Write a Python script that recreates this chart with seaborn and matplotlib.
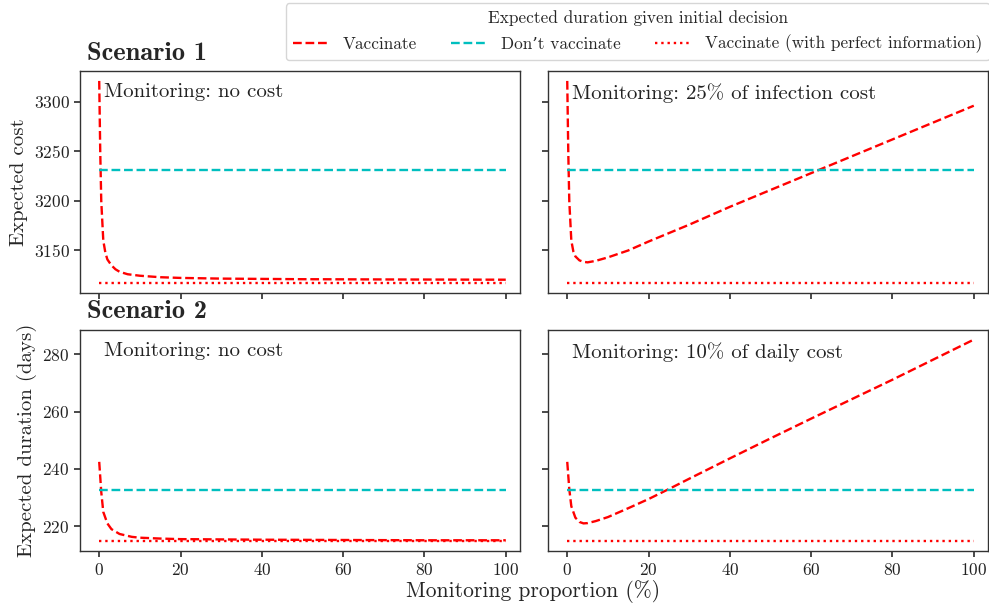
import matplotlib
matplotlib.use("Agg")
import matplotlib.pyplot as plt
import seaborn as sns

# Monitoring proportion (%) at which each curve was read
prop_s1_free = [0, 0.25, 0.5, 1, 1.5, 2, 3, 4, 5, 7, 10, 15, 20, 30, 50, 75, 100]
vacc_s1_free = [3321, 3250, 3200, 3160, 3148, 3141, 3135, 3131, 3128.5, 3126, 3124.5,
                3123, 3122.3, 3121.6, 3121, 3120.7, 3120.5]

prop_s1_cost = [0, 0.25, 0.5, 1, 1.5, 2, 3, 4, 5, 7, 10, 15, 20, 30, 40, 50, 60, 70, 80, 90, 100]
vacc_s1_cost = [3321, 3250, 3200, 3160, 3149, 3144, 3140, 3138.5, 3138, 3139.5, 3143,
                3150, 3159, 3176, 3194, 3211, 3228, 3245, 3262, 3279, 3296]

prop_s2_free = [0, 0.5, 1, 2, 3, 5, 8, 10, 15, 20, 40, 60, 80, 100]
vacc_s2_free = [242.5, 232, 225, 221, 219, 217.3, 216.3, 216, 215.7, 215.5, 215.3,
                215.2, 215.1, 215.1]

prop_s2_cost = [0, 0.5, 1, 2, 3, 4, 5, 7, 10, 15, 20, 25, 30, 40, 50, 60, 70, 80, 90, 100]
vacc_s2_cost = [242.5, 233, 227, 223, 221.5, 221, 221.1, 221.8, 223.2, 226.3, 229.5,
                233, 236.6, 243.7, 250.7, 257.6, 264.4, 271.2, 278.2, 285.2]

prop_flat = [0, 100]
no_vacc_s1 = [3231, 3231]
perfect_s1 = [3117.5, 3117.5]
no_vacc_s2 = [232.6, 232.6]
perfect_s2 = [214.9, 214.9]

panel_notes = ["Monitoring: no cost", "Monitoring: 25% of infection cost",
               "Monitoring: no cost", "Monitoring: 10% of daily cost"]
scenario_titles = ["Scenario 1", "Scenario 2"]
row_ylabels = ["Expected cost", "Expected duration (days)"]
legend_labels = ["Vaccinate", "Don\u2019t vaccinate", "Vaccinate (with perfect information)"]

RED = "#ff0000"
CYAN = "#00bfbf"

sns.set_theme(style="ticks")
plt.rcParams["font.family"] = ["cmr10", "DejaVu Serif"]
plt.rcParams["axes.formatter.use_mathtext"] = True
plt.rcParams["axes.edgecolor"] = "#333333"
plt.rcParams["xtick.color"] = "#333333"
plt.rcParams["ytick.color"] = "#333333"
plt.rcParams["xtick.labelcolor"] = "#222222"
plt.rcParams["ytick.labelcolor"] = "#222222"

fig, axes = plt.subplots(2, 2, figsize=(9.89, 6.07), dpi=100, sharex=True, sharey="row")
fig.subplots_adjust(left=0.081, right=0.999, top=0.883, bottom=0.092,
                    wspace=0.064, hspace=0.167)

panels = [
    (axes[0, 0], prop_s1_free, vacc_s1_free, no_vacc_s1, perfect_s1),
    (axes[0, 1], prop_s1_cost, vacc_s1_cost, no_vacc_s1, perfect_s1),
    (axes[1, 0], prop_s2_free, vacc_s2_free, no_vacc_s2, perfect_s2),
    (axes[1, 1], prop_s2_cost, vacc_s2_cost, no_vacc_s2, perfect_s2),
]

for (ax, xs, vacc, novacc, perfect), note in zip(panels, panel_notes):
    sns.lineplot(x=xs, y=vacc, ax=ax, color=RED, linestyle="--", lw=1.7,
                 label=legend_labels[0], legend=False)
    sns.lineplot(x=prop_flat, y=novacc, ax=ax, color=CYAN, linestyle="--", lw=1.7,
                 label=legend_labels[1], legend=False)
    sns.lineplot(x=prop_flat, y=perfect, ax=ax, color=RED, linestyle=":", lw=1.7,
                 label=legend_labels[2], legend=False)
    ax.text(0.055, 0.945, note, transform=ax.transAxes, ha="left", va="top",
            fontsize=15, color="#222222")
    ax.tick_params(labelsize=12.5, length=4)
    for sp in ax.spines.values():
        sp.set_linewidth(1.0)

axes[0, 0].set_ylim(3107.5, 3331)
axes[0, 0].set_yticks([3150, 3200, 3250, 3300])
axes[1, 0].set_ylim(211.3, 288.7)
axes[1, 0].set_yticks([220, 240, 260, 280])
axes[1, 0].set_xlim(-4.7, 103.5)
axes[1, 0].set_xticks([0, 20, 40, 60, 80, 100])

for r in range(2):
    axes[r, 0].set_ylabel(row_ylabels[r], fontsize=15)
    axes[r, 0].set_title(scenario_titles[r], loc="left", fontsize=19,
                         family=["cmb10", "DejaVu Serif"], pad=8, x=0.015)

fig.supxlabel("Monitoring proportion (%)", fontsize=15.5, x=0.539, y=0.006)

handles, labels = axes[0, 0].get_legend_handles_labels()
leg = fig.legend(handles, labels, loc="upper right", bbox_to_anchor=(1.004, 1.0),
                 ncol=3, title="Expected duration given initial decision",
                 fontsize=12.4, title_fontsize=12.4, frameon=True, handlelength=2.0,
                 handletextpad=0.9, columnspacing=2.0, borderaxespad=0.2)
leg.get_frame().set_edgecolor("#cccccc")

fig.savefig("out.png", dpi=100)
